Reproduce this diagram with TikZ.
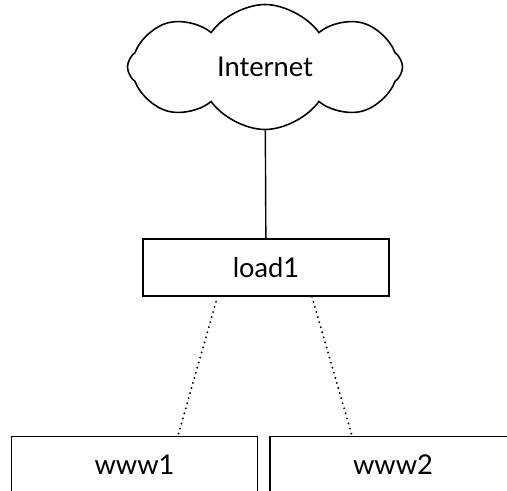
\documentclass[tikz,border=0pt]{standalone}
\usepackage{fontspec}
\setmainfont{Lato}
\usepackage{tikz}
\usetikzlibrary{shapes.symbols,positioning}

\begin{document}
\begin{tikzpicture}[
  netbox/.style={draw, line width=0.9pt, minimum width=4.92cm, minimum height=1.14cm,
    font=\fontsize{15.5}{18}\selectfont, inner sep=0pt},
  netcloud/.style={draw, cloud, cloud puffs=8, cloud puff arc=110, aspect=2.2,
    line width=0.9pt, minimum width=5.5cm, minimum height=2.5cm,
    font=\fontsize{15.5}{18}\selectfont},
  uplink/.style={line width=0.8pt},
  balance/.style={line width=1.2pt, line cap=round, dash pattern=on 0pt off 3pt}
]
\clip (0,0) rectangle (10.14,-9.8);
\useasboundingbox (0,0) rectangle (10.14,-9.8);
\node (inet) [netcloud] at (5.3,-1.34) {Internet};
\node (load1) [netbox] at (5.32,-5.35) {load1};
\node (www1) [netbox] at (2.69,-9.3) {www1};
\node (www2) [netbox] at (7.86,-9.3) {www2};
\draw[uplink] (inet) -- (load1);
\draw[balance] ([xshift=-1cm,yshift=-0.1cm]load1.south) -- ([xshift=0.87cm]www1.north);
\draw[balance] ([xshift=0.92cm]load1.south) -- ([xshift=-0.82cm]www2.north);
\end{tikzpicture}
\end{document}
